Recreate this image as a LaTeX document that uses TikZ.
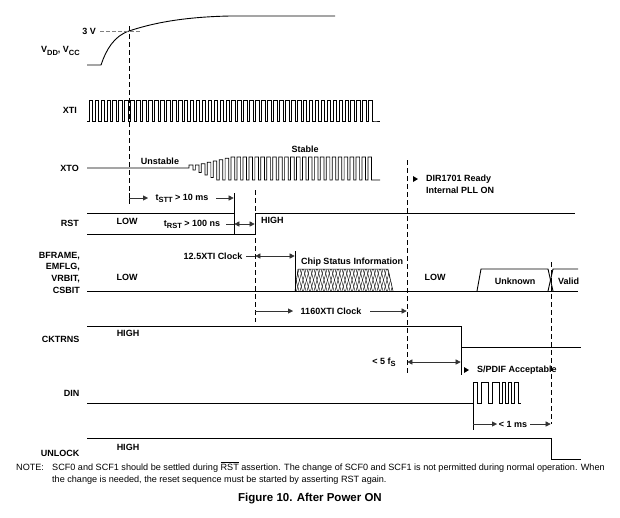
\documentclass[tikz,border=0pt]{standalone}
\usepackage{fontspec}
\setmainfont{Liberation Sans}
\usetikzlibrary{arrows.meta}
\newcommand{\mysub}[1]{\raisebox{-2.2pt}{\fontsize{7.5}{8}\selectfont #1}}
\begin{document}
\begin{tikzpicture}[x=1pt,y=-1pt,
  sig/.style={line width=0.9pt, line join=miter},
  wave/.style={line width=0.7pt, line join=miter},
  dsh/.style={line width=0.6pt, dash pattern=on 5pt off 3pt},
  dimln/.style={line width=0.45pt, black!80},
  tipL/.style={{Triangle[length=5pt,width=5pt]}-},
  tipR/.style={-{Triangle[length=5pt,width=5pt]}},
  tipLR/.style={{Triangle[length=5pt,width=5pt]}-{Triangle[length=5pt,width=5pt]}},
  lbl/.style={font=\bfseries\fontsize{9}{10}\selectfont, inner sep=0pt},
  note/.style={font=\fontsize{9.1}{10}\selectfont, inner sep=0pt, anchor=base west}]
\useasboundingbox (0,0) rectangle (620,517);

% ---------- VDD / VCC ----------
\draw[sig] (87,65) -- (101,65) .. controls (106,50) and (114,36) .. (129,31)
  .. controls (150,24) and (180,17) .. (230,16) -- (335,16);
\node[lbl, anchor=east] (l3v) at (96,31) {3 V};
\draw[black!50, line width=0.5pt, dash pattern=on 4pt off 2pt] (100,31) -- (140,31);
\node[lbl, anchor=east] (lvdd) at (80,51) {V\mysub{DD}, V\mysub{CC}};
\draw[dsh] (129,26) -- (129,193);

% ---------- XTI ----------
\node[lbl, anchor=east] (lxti) at (77,110) {XTI};
\draw[wave] (87,121) -- (89,121)
  foreach \i in {0,...,47} { -- ({89+5.95*\i},121) -- ({89+5.95*\i},100) -- ({89+5.95*\i+3.6},100) -- ({89+5.95*\i+3.6},121) -- ({89+5.95*\i+5.95},121) }
  -- (380,121);

% ---------- XTO ----------
\node[lbl, anchor=east] (lxto) at (79,168) {XTO};
\draw[wave] (87,168) -- (189,168) -- (189,165) -- (193,165)
  foreach \i in {0,...,29}
  { -- ({193+5.95*\i},{170+10*(\i<4 ? \i/4 : 1)}) -- ({193+5.95*\i+2.35},{170+10*(\i<4 ? \i/4 : 1)})
    -- ({193+5.95*\i+2.35},{165-8*(\i<6 ? \i/6 : 1)}) -- ({193+5.95*\i+5.95},{165-8*(\i<6 ? \i/6 : 1)}) }
  -- (371.5,180) -- (380,180);
\node[lbl] (lunst) at (160,161) {Unstable};
\node[lbl] (lstab) at (305,149) {Stable};

% ---------- DIR1701 ready ----------
\draw[dsh] (407,160) -- (407,374);
\fill (413,176) -- (418,179) -- (413,182) -- cycle;
\node[lbl, anchor=west] (ldir) at (426,179) {DIR1701 Ready};
\node[lbl, anchor=west] (lpll) at (426,190.5) {Internal PLL ON};

% ---------- tSTT ----------
\draw[line width=0.6pt] (129,193) -- (129,204);
\draw[line width=0.6pt] (234,193) -- (234,234);
\node[lbl] (ltstt) at (182,198) {t\mysub{STT} > 10 ms};
\draw[dimln, tipL] (148,198) -- (129.3,198);
\draw[dimln, tipR] (216,198) -- (233.7,198);

% ---------- RST ----------
\node[lbl, anchor=east] (lrst) at (79,223) {RST};
\draw[sig] (87,213) -- (234,213);
\draw[sig] (87,234) -- (255,234) -- (255,213) -- (575,213);
\node[lbl] (lrstlow) at (127,221) {LOW};
\node[lbl, anchor=west] (lrsthigh) at (261,220) {HIGH};
\node[lbl] (ltrst) at (192,224) {t\mysub{RST} > 100 ns};
\draw[dimln] (226,224) -- (234,224);
\draw[dimln, tipLR] (234.3,224) -- (254.7,224);
\draw[dsh] (255,190) -- (255,322);

% ---------- BFRAME ... ----------
\node[lbl, anchor=east, align=right, font=\bfseries\fontsize{9}{11.7}\selectfont] (lbf) at (80,272.5) {BFRAME,\\EMFLG,\\VRBIT,\\CSBIT};
\draw[sig] (87,291) -- (578,291);
\node[lbl] (lbflow) at (127,277) {LOW};
\node[lbl] (l125) at (213,256) {12.5XTI Clock};
\draw[dimln] (246,256) -- (255,256);
\draw[dimln, tipLR] (255.3,256) -- (294.7,256);
\draw[line width=0.6pt] (295,251) -- (295,291);
% chip status hatch
\begin{scope}
  \clip (295,291) -- (298,269) -- (388,269) -- (393,291) -- cycle;
  \foreach \x in {286,289.5,...,400} {
    \draw[line width=0.4pt] (\x,269) -- ({\x+6},291);
    \draw[line width=0.4pt] ({\x+6},269) -- (\x,291);
  }
\end{scope}
\draw[line width=0.5pt] (295,291) -- (298,269) -- (388,269) -- (393,291);
\node[lbl] (lchip) at (352,262) {Chip Status Information};
\node[lbl] (lbflow2) at (435,277) {LOW};
% unknown / valid bus
\draw[sig] (477,291) -- (481,269) -- (548,269) -- (553,291);
\draw[sig] (548,291) -- (553,269) -- (578,269);
\node[lbl] (lunk) at (515,281) {Unknown};
\node[lbl, anchor=west] (lval) at (558,281) {Valid};
\draw[dsh] (551,262) -- (551,424);

% ---------- 1160XTI Clock ----------
\draw[dimln, tipL] (293,311) -- (255.3,311);
\node[lbl] (l1160) at (331,311) {1160XTI Clock};
\draw[dimln, tipR] (370,311) -- (406.7,311);

% ---------- CKTRNS ----------
\node[lbl, anchor=east] (lck) at (79.5,339) {CKTRNS};
\draw[sig] (87,326) -- (461,326) -- (461,347) -- (581,347);
\draw[line width=0.6pt] (461,347) -- (461,375);
\node[lbl] (lckhigh) at (128,333) {HIGH};
\node[lbl] (l5fs) at (384,362) {< 5 f\mysub{S}};
\draw[dimln, tipLR] (407.3,362) -- (460.7,362);
\fill (464,367) -- (469,370) -- (464,373) -- cycle;
\node[lbl, anchor=west] (lspdif) at (477,370) {S/PDIF Acceptable};

% ---------- DIN ----------
\node[lbl, anchor=east] (ldin) at (79.5,393) {DIN};
\draw[wave] (87,403) -- (473,403) -- (473,382) -- (477,382) -- (477,403) -- (481,403) -- (481,382)
  -- (488,382) -- (488,403) -- (492,403) -- (492,382) -- (499,382) -- (499,403) -- (502,403)
  -- (502,382) -- (505,382) -- (505,403) -- (508,403) -- (508,382) -- (511,382) -- (511,403)
  -- (514,403) -- (514,382) -- (518,382) -- (518,403) -- (521,403);
\draw[line width=0.6pt] (473,403) -- (473,430);
\draw[dimln, tipL] (497,424) -- (473.3,424);
\node[lbl] (l1ms) at (513,424) {< 1 ms};
\draw[dimln, tipR] (530,424) -- (550.7,424);

% ---------- UNLOCK ----------
\node[lbl, anchor=east] (lunl) at (79.5,453) {UNLOCK};
\draw[sig] (87,438) -- (551,438) -- (551,459) -- (581,459);
\node[lbl] (lunlhigh) at (128,447) {HIGH};

% ---------- note / caption ----------
\node[note] (lnote) at (16,470) {NOTE:};
\node[note] (lnote1) at (52,470) {SCF0 and SCF1 should be settled during $\overline{\mbox{RST}}$ assertion. The change of SCF0 and SCF1 is not permitted during normal operation. When};
\node[note] (lnote2) at (52,482) {the change is needed, the reset sequence must be started by asserting RST again.};
\node[font=\bfseries\fontsize{11.5}{13}\selectfont, inner sep=0pt] (lcap) at (310,499) {Figure 10. After Power ON};
\end{tikzpicture}
\end{document}
